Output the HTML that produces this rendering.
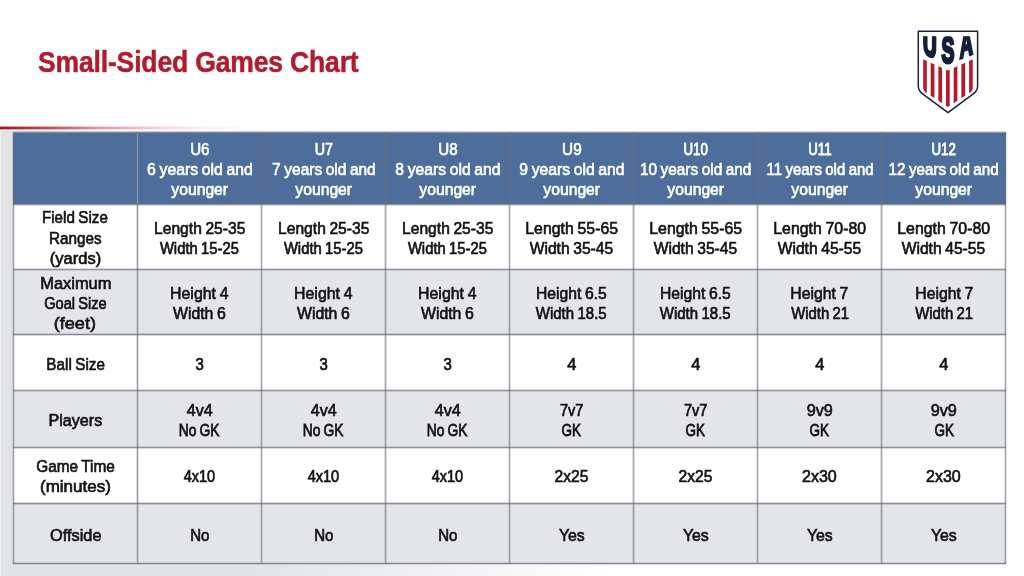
<!DOCTYPE html>
<html lang="en"><head><meta charset="utf-8"><title>Small-Sided Games Chart</title>
<style>
html,body{margin:0;padding:0;}
body{width:1024px;height:576px;overflow:hidden;background:#fff;position:relative;font-family:"Liberation Sans",sans-serif;}
.abs{position:absolute;}
#bg{left:0;top:131px;width:1024px;height:445px;background:linear-gradient(90deg,#fafafb 0,#e2e3e7 1.5px,#e2e3e7 23%,#ebecef 35%,#f5f5f7 47%,#ffffff 60%);}
#redline{left:0;top:125.5px;width:260px;height:4.5px;background:linear-gradient(90deg,#b00f1d 0,rgba(185,25,40,.85) 40px,rgba(195,35,50,.45) 100px,rgba(200,40,55,.15) 170px,rgba(200,40,55,0) 250px);-webkit-mask-image:linear-gradient(180deg,transparent 0,#000 30%,#000 70%,transparent 100%);mask-image:linear-gradient(180deg,transparent 0,#000 30%,#000 70%,transparent 100%);}
#title{left:37.6px;top:42px;font-weight:bold;font-size:30px;line-height:40px;color:#b11c2d;white-space:nowrap;transform-origin:0 50%;transform:scaleX(.885);letter-spacing:-.2px;-webkit-text-stroke:.5px #b11c2d;}
.c{position:absolute;display:flex;align-items:center;justify-content:center;text-align:center;color:#111;}
.c>div{white-space:nowrap;font-weight:normal;position:relative;top:1.8px;word-spacing:-.8px;font-size:17px;line-height:20.3px;-webkit-text-stroke:0.65px currentColor;}
.c span{display:inline-block;}
.h{background:#4d6e9a;color:#fff;}
.g{background:#e4e5e9;}
.w{background:#fff;}
.lv{position:absolute;width:3px;background:linear-gradient(90deg,rgba(108,110,128,0) 0,rgba(108,110,128,.62) 50%,rgba(108,110,128,0) 100%);}
.lh{position:absolute;height:3px;background:linear-gradient(180deg,rgba(104,106,124,0) 0,rgba(104,106,124,.72) 50%,rgba(104,106,124,0) 100%);}
</style></head><body>
<div id="bg" class="abs"></div>
<div id="redline" class="abs"></div>
<div id="title" class="abs">Small-Sided Games Chart</div>
<div class="c h" style="left:13.2px;top:132.6px;width:124.3px;height:71.8px"><div></div></div>
<div class="c h" style="left:137.5px;top:132.6px;width:124.0px;height:71.8px"><div><span style="transform:scaleX(0.889);-webkit-text-stroke-width:0.67px">U6</span><br><span style="transform:scaleX(0.928)">6 years old and</span><br><span style="transform:scaleX(0.923)">younger</span></div></div>
<div class="c h" style="left:261.5px;top:132.6px;width:124.1px;height:71.8px"><div><span style="transform:scaleX(0.841);-webkit-text-stroke-width:0.73px">U7</span><br><span style="transform:scaleX(0.910)">7 years old and</span><br><span style="transform:scaleX(0.923)">younger</span></div></div>
<div class="c h" style="left:385.6px;top:132.6px;width:124.0px;height:71.8px"><div><span style="transform:scaleX(0.894)">U8</span><br><span style="transform:scaleX(0.924)">8 years old and</span><br><span style="transform:scaleX(0.923)">younger</span></div></div>
<div class="c h" style="left:509.6px;top:132.6px;width:124.1px;height:71.8px"><div><span style="transform:scaleX(0.899)">U9</span><br><span style="transform:scaleX(0.924)">9 years old and</span><br><span style="transform:scaleX(0.923)">younger</span></div></div>
<div class="c h" style="left:633.7px;top:132.6px;width:124.0px;height:71.8px"><div><span style="transform:scaleX(0.780);-webkit-text-stroke-width:0.82px">U10</span><br><span style="transform:scaleX(0.903)">10 years old and</span><br><span style="transform:scaleX(0.923)">younger</span></div></div>
<div class="c h" style="left:757.7px;top:132.6px;width:124.1px;height:71.8px"><div><span style="transform:scaleX(0.780);-webkit-text-stroke-width:0.82px">U11</span><br><span style="transform:scaleX(0.877);-webkit-text-stroke-width:0.69px">11 years old and</span><br><span style="transform:scaleX(0.923)">younger</span></div></div>
<div class="c h" style="left:881.8px;top:132.6px;width:124.0px;height:71.8px"><div><span style="transform:scaleX(0.780);-webkit-text-stroke-width:0.82px">U12</span><br><span style="transform:scaleX(0.893)">12 years old and</span><br><span style="transform:scaleX(0.923)">younger</span></div></div>
<div class="c w" style="left:13.2px;top:204.4px;width:124.3px;height:65.4px"><div><span style="transform:scaleX(0.893)">Field Size</span><br><span style="transform:scaleX(0.896)">Ranges</span><br><span style="transform:scaleX(0.972)">(yards)</span></div></div>
<div class="c w" style="left:137.5px;top:204.4px;width:124.0px;height:65.4px"><div><span style="transform:scaleX(0.918)">Length 25-35</span><br><span style="transform:scaleX(0.870);-webkit-text-stroke-width:0.70px">Width 15-25</span></div></div>
<div class="c w" style="left:261.5px;top:204.4px;width:124.1px;height:65.4px"><div><span style="transform:scaleX(0.918)">Length 25-35</span><br><span style="transform:scaleX(0.870);-webkit-text-stroke-width:0.70px">Width 15-25</span></div></div>
<div class="c w" style="left:385.6px;top:204.4px;width:124.0px;height:65.4px"><div><span style="transform:scaleX(0.918)">Length 25-35</span><br><span style="transform:scaleX(0.870);-webkit-text-stroke-width:0.70px">Width 15-25</span></div></div>
<div class="c w" style="left:509.6px;top:204.4px;width:124.1px;height:65.4px"><div><span style="transform:scaleX(0.934)">Length 55-65</span><br><span style="transform:scaleX(0.919)">Width 35-45</span></div></div>
<div class="c w" style="left:633.7px;top:204.4px;width:124.0px;height:65.4px"><div><span style="transform:scaleX(0.934)">Length 55-65</span><br><span style="transform:scaleX(0.919)">Width 35-45</span></div></div>
<div class="c w" style="left:757.7px;top:204.4px;width:124.1px;height:65.4px"><div><span style="transform:scaleX(0.934)">Length 70-80</span><br><span style="transform:scaleX(0.919)">Width 45-55</span></div></div>
<div class="c w" style="left:881.8px;top:204.4px;width:124.0px;height:65.4px"><div><span style="transform:scaleX(0.934)">Length 70-80</span><br><span style="transform:scaleX(0.919)">Width 45-55</span></div></div>
<div class="c g" style="left:13.2px;top:269.8px;width:124.3px;height:64.9px"><div><span style="transform:scaleX(0.967)">Maximum</span><br><span style="transform:scaleX(0.858);-webkit-text-stroke-width:0.71px">Goal Size</span><br><span style="transform:scaleX(1.064)">(feet)</span></div></div>
<div class="c g" style="left:137.5px;top:269.8px;width:124.0px;height:64.9px"><div><span style="transform:scaleX(0.934)">Height 4</span><br><span style="transform:scaleX(0.932)">Width 6</span></div></div>
<div class="c g" style="left:261.5px;top:269.8px;width:124.1px;height:64.9px"><div><span style="transform:scaleX(0.934)">Height 4</span><br><span style="transform:scaleX(0.932)">Width 6</span></div></div>
<div class="c g" style="left:385.6px;top:269.8px;width:124.0px;height:64.9px"><div><span style="transform:scaleX(0.934)">Height 4</span><br><span style="transform:scaleX(0.932)">Width 6</span></div></div>
<div class="c g" style="left:509.6px;top:269.8px;width:124.1px;height:64.9px"><div><span style="transform:scaleX(0.924)">Height 6.5</span><br><span style="transform:scaleX(0.880);-webkit-text-stroke-width:0.68px">Width 18.5</span></div></div>
<div class="c g" style="left:633.7px;top:269.8px;width:124.0px;height:64.9px"><div><span style="transform:scaleX(0.924)">Height 6.5</span><br><span style="transform:scaleX(0.880);-webkit-text-stroke-width:0.68px">Width 18.5</span></div></div>
<div class="c g" style="left:757.7px;top:269.8px;width:124.1px;height:64.9px"><div><span style="transform:scaleX(0.927)">Height 7</span><br><span style="transform:scaleX(0.875);-webkit-text-stroke-width:0.69px">Width 21</span></div></div>
<div class="c g" style="left:881.8px;top:269.8px;width:124.0px;height:64.9px"><div><span style="transform:scaleX(0.927)">Height 7</span><br><span style="transform:scaleX(0.875);-webkit-text-stroke-width:0.69px">Width 21</span></div></div>
<div class="c w" style="left:13.2px;top:334.7px;width:124.3px;height:55.9px"><div style="top:2.8px"><span style="transform:scaleX(0.897)">Ball Size</span></div></div>
<div class="c w" style="left:137.5px;top:334.7px;width:124.0px;height:55.9px"><div style="top:2.8px"><span style="transform:scaleX(0.878);-webkit-text-stroke-width:0.69px">3</span></div></div>
<div class="c w" style="left:261.5px;top:334.7px;width:124.1px;height:55.9px"><div style="top:2.8px"><span style="transform:scaleX(0.878);-webkit-text-stroke-width:0.69px">3</span></div></div>
<div class="c w" style="left:385.6px;top:334.7px;width:124.0px;height:55.9px"><div style="top:2.8px"><span style="transform:scaleX(0.878);-webkit-text-stroke-width:0.69px">3</span></div></div>
<div class="c w" style="left:509.6px;top:334.7px;width:124.1px;height:55.9px"><div style="top:2.8px"><span style="transform:scaleX(0.963)">4</span></div></div>
<div class="c w" style="left:633.7px;top:334.7px;width:124.0px;height:55.9px"><div style="top:2.8px"><span style="transform:scaleX(0.963)">4</span></div></div>
<div class="c w" style="left:757.7px;top:334.7px;width:124.1px;height:55.9px"><div style="top:2.8px"><span style="transform:scaleX(0.963)">4</span></div></div>
<div class="c w" style="left:881.8px;top:334.7px;width:124.0px;height:55.9px"><div style="top:2.8px"><span style="transform:scaleX(0.963)">4</span></div></div>
<div class="c g" style="left:13.2px;top:390.6px;width:124.3px;height:56.5px"><div style="top:2.6px"><span style="transform:scaleX(0.947)">Players</span></div></div>
<div class="c g" style="left:137.5px;top:390.6px;width:124.0px;height:56.5px"><div style="top:2.6px"><span style="transform:scaleX(0.947)">4v4</span><br><span style="transform:scaleX(0.813);-webkit-text-stroke-width:0.77px">No GK</span></div></div>
<div class="c g" style="left:261.5px;top:390.6px;width:124.1px;height:56.5px"><div style="top:2.6px"><span style="transform:scaleX(0.947)">4v4</span><br><span style="transform:scaleX(0.813);-webkit-text-stroke-width:0.77px">No GK</span></div></div>
<div class="c g" style="left:385.6px;top:390.6px;width:124.0px;height:56.5px"><div style="top:2.6px"><span style="transform:scaleX(0.947)">4v4</span><br><span style="transform:scaleX(0.813);-webkit-text-stroke-width:0.77px">No GK</span></div></div>
<div class="c g" style="left:509.6px;top:390.6px;width:124.1px;height:56.5px"><div style="top:2.6px"><span style="transform:scaleX(0.856);-webkit-text-stroke-width:0.71px">7v7</span><br><span style="transform:scaleX(0.791);-webkit-text-stroke-width:0.80px">GK</span></div></div>
<div class="c g" style="left:633.7px;top:390.6px;width:124.0px;height:56.5px"><div style="top:2.6px"><span style="transform:scaleX(0.856);-webkit-text-stroke-width:0.71px">7v7</span><br><span style="transform:scaleX(0.791);-webkit-text-stroke-width:0.80px">GK</span></div></div>
<div class="c g" style="left:757.7px;top:390.6px;width:124.1px;height:56.5px"><div style="top:2.6px"><span style="transform:scaleX(0.953)">9v9</span><br><span style="transform:scaleX(0.791);-webkit-text-stroke-width:0.80px">GK</span></div></div>
<div class="c g" style="left:881.8px;top:390.6px;width:124.0px;height:56.5px"><div style="top:2.6px"><span style="transform:scaleX(0.953)">9v9</span><br><span style="transform:scaleX(0.791);-webkit-text-stroke-width:0.80px">GK</span></div></div>
<div class="c w" style="left:13.2px;top:447.1px;width:124.3px;height:56.0px"><div style="top:1.9px"><span style="transform:scaleX(0.904)">Game Time</span><br><span style="transform:scaleX(1.001)">(minutes)</span></div></div>
<div class="c w" style="left:137.5px;top:447.1px;width:124.0px;height:56.0px"><div style="top:1.9px"><span style="transform:scaleX(0.855);-webkit-text-stroke-width:0.71px">4x10</span></div></div>
<div class="c w" style="left:261.5px;top:447.1px;width:124.1px;height:56.0px"><div style="top:1.9px"><span style="transform:scaleX(0.855);-webkit-text-stroke-width:0.71px">4x10</span></div></div>
<div class="c w" style="left:385.6px;top:447.1px;width:124.0px;height:56.0px"><div style="top:1.9px"><span style="transform:scaleX(0.855);-webkit-text-stroke-width:0.71px">4x10</span></div></div>
<div class="c w" style="left:509.6px;top:447.1px;width:124.1px;height:56.0px"><div style="top:1.9px"><span style="transform:scaleX(0.915)">2x25</span></div></div>
<div class="c w" style="left:633.7px;top:447.1px;width:124.0px;height:56.0px"><div style="top:1.9px"><span style="transform:scaleX(0.915)">2x25</span></div></div>
<div class="c w" style="left:757.7px;top:447.1px;width:124.1px;height:56.0px"><div style="top:1.9px"><span style="transform:scaleX(0.940)">2x30</span></div></div>
<div class="c w" style="left:881.8px;top:447.1px;width:124.0px;height:56.0px"><div style="top:1.9px"><span style="transform:scaleX(0.940)">2x30</span></div></div>
<div class="c g" style="left:13.2px;top:503.1px;width:124.3px;height:60.5px"><div style="top:2.4px"><span style="transform:scaleX(0.959)">Offside</span></div></div>
<div class="c g" style="left:137.5px;top:503.1px;width:124.0px;height:60.5px"><div style="top:2.4px"><span style="transform:scaleX(0.884);-webkit-text-stroke-width:0.68px">No</span></div></div>
<div class="c g" style="left:261.5px;top:503.1px;width:124.1px;height:60.5px"><div style="top:2.4px"><span style="transform:scaleX(0.884);-webkit-text-stroke-width:0.68px">No</span></div></div>
<div class="c g" style="left:385.6px;top:503.1px;width:124.0px;height:60.5px"><div style="top:2.4px"><span style="transform:scaleX(0.884);-webkit-text-stroke-width:0.68px">No</span></div></div>
<div class="c g" style="left:509.6px;top:503.1px;width:124.1px;height:60.5px"><div style="top:2.4px"><span style="transform:scaleX(0.933)">Yes</span></div></div>
<div class="c g" style="left:633.7px;top:503.1px;width:124.0px;height:60.5px"><div style="top:2.4px"><span style="transform:scaleX(0.933)">Yes</span></div></div>
<div class="c g" style="left:757.7px;top:503.1px;width:124.1px;height:60.5px"><div style="top:2.4px"><span style="transform:scaleX(0.933)">Yes</span></div></div>
<div class="c g" style="left:881.8px;top:503.1px;width:124.0px;height:60.5px"><div style="top:2.4px"><span style="transform:scaleX(0.933)">Yes</span></div></div>
<div class="lv" style="left:11.7px;top:132.1px;height:432.0px"></div>
<div class="lv" style="left:136.0px;top:132.1px;height:432.0px"></div>
<div class="lv" style="left:260.0px;top:132.1px;height:432.0px"></div>
<div class="lv" style="left:384.1px;top:132.1px;height:432.0px"></div>
<div class="lv" style="left:508.1px;top:132.1px;height:432.0px"></div>
<div class="lv" style="left:632.2px;top:132.1px;height:432.0px"></div>
<div class="lv" style="left:756.2px;top:132.1px;height:432.0px"></div>
<div class="lv" style="left:880.3px;top:132.1px;height:432.0px"></div>
<div class="lv" style="left:1004.3px;top:132.1px;height:432.0px"></div>
<div class="lh" style="left:12.7px;top:131.1px;width:993.6px"></div>
<div class="lh" style="left:12.7px;top:202.9px;width:993.6px"></div>
<div class="lh" style="left:12.7px;top:268.3px;width:993.6px"></div>
<div class="lh" style="left:12.7px;top:333.2px;width:993.6px"></div>
<div class="lh" style="left:12.7px;top:389.1px;width:993.6px"></div>
<div class="lh" style="left:12.7px;top:445.6px;width:993.6px"></div>
<div class="lh" style="left:12.7px;top:501.6px;width:993.6px"></div>
<div class="lh" style="left:12.7px;top:562.1px;width:993.6px"></div>
<svg class="abs" style="left:900px;top:20px" width="100" height="100" viewBox="900 20 100 100">
<defs>
<clipPath id="cs"><path d="M923.1 59.3 L947.85 70.6 L972.9 59.3 V88 Q972.9 90.5 970.8 92 L947.85 107 L925.2 92 Q923.1 90.5 923.1 88 Z"/></clipPath>
<clipPath id="ct"><rect x="918" y="36.3" width="60" height="40"/></clipPath>
</defs>
<path d="M918.3 31.3 H977.6 V86 Q977.6 90.6 974 93.3 L947.95 112.6 L921.9 93.3 Q918.3 90.6 918.3 86 Z" fill="#fff" stroke="#1a2139" stroke-width="1.5" stroke-linejoin="round"/>
<g clip-path="url(#cs)" fill="#b5172b">
<rect x="923.1" y="50" width="3.7" height="70"/><rect x="930.7" y="50" width="3.7" height="70"/><rect x="938.35" y="50" width="3.7" height="70"/><rect x="946" y="50" width="3.7" height="70"/><rect x="953.7" y="50" width="3.7" height="70"/><rect x="961.4" y="50" width="3.7" height="70"/><rect x="969.1" y="50" width="3.7" height="70"/>
</g>
<g clip-path="url(#ct)" font-family="Liberation Sans, sans-serif" font-weight="bold" font-size="28" fill="#161f3a" stroke="#161f3a" stroke-width="2.4" stroke-linejoin="miter" text-anchor="middle">
<text transform="translate(929.8 56) skewY(21) scale(.69 1.3)" x="0" y="0">U</text>
<text transform="translate(948.05 62.6) scale(.69 1.3)" x="0" y="0">S</text>
<text transform="translate(966.4 56) skewY(-21) scale(.65 1.3)" x="0" y="0">A</text>
</g>
</svg>
</body></html>
